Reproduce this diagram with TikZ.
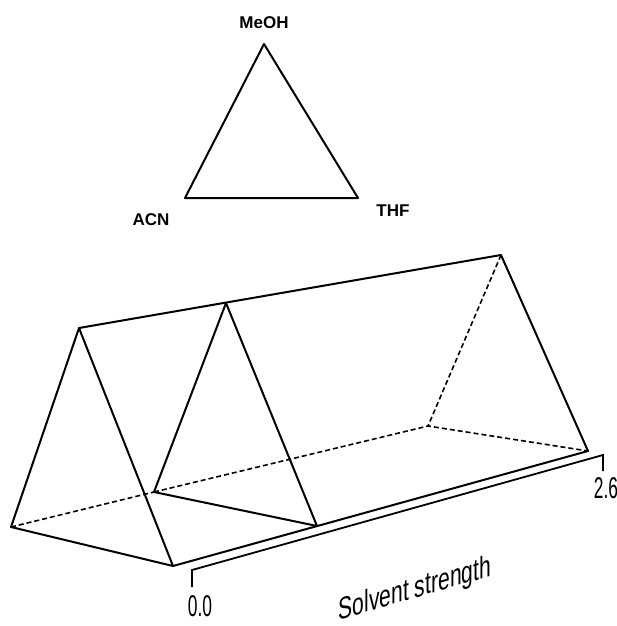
\documentclass[tikz,border=0pt]{standalone}
\usepackage{fontspec}
\setmainfont{Liberation Sans}
\begin{document}
\begin{tikzpicture}[x=1pt,y=-1pt,
  edge/.style={line width=2pt,line join=round,line cap=round},
  hidden/.style={line width=1.6pt,dash pattern=on 5pt off 3pt},
  axisline/.style={line width=1.8pt},
  lab/.style={font=\bfseries\fontsize{17}{19}\selectfont,inner sep=0pt},
  num/.style={font=\fontsize{30}{32}\selectfont,inner sep=0pt,xscale=0.58},
  axlab/.style={font=\fontsize{31}{33}\selectfont,inner sep=0pt,cm={0.68,0.197,0,1,(0,0)}}]
\useasboundingbox (0,0) rectangle (617,626);
% small triangle
\coordinate (tA) at (264,44);
\coordinate (tL) at (185,198);
\coordinate (tR) at (358,198);
\draw[edge] (tA) -- (tL) -- (tR) -- cycle;
\node[lab] (meoh) at (264,22.5) {MeOH};
\node[lab] (acn) at (151,220) {ACN};
\node[lab] (thf) at (393,210.5) {THF};
% prism
\coordinate (fL) at (11,527);
\coordinate (fT) at (79,328);
\coordinate (fR) at (173,566);
\coordinate (mL) at (154,492);
\coordinate (mT) at (226,303);
\coordinate (mR) at (317,526);
\coordinate (bL) at (428,426);
\coordinate (bT) at (501,255);
\coordinate (bR) at (588,451);
\draw[hidden] (fL) -- (mL);
\draw[hidden] (mL) -- (bL);
\draw[hidden] (bT) -- (bL) -- (bR);
\draw[edge] (fL) -- (fT) -- (fR) -- cycle;
\draw[edge] (mL) -- (mT) -- (mR) -- cycle;
\draw[edge] (fT) -- (bT) -- (bR) -- (fR);
% axis
\coordinate (a0) at (192,570);
\coordinate (a0t) at (192,587);
\coordinate (a1) at (603,455);
\coordinate (a1t) at (603,471);
\draw[axisline] (a0t) -- (a0) -- (a1) -- (a1t);
\node[num] (l0) at (200,606) {0.0};
\node[num] (l1) at (606,488) {2.6};
\node[axlab] (ss) at (415,590) {Solvent strength};
\end{tikzpicture}
\end{document}
